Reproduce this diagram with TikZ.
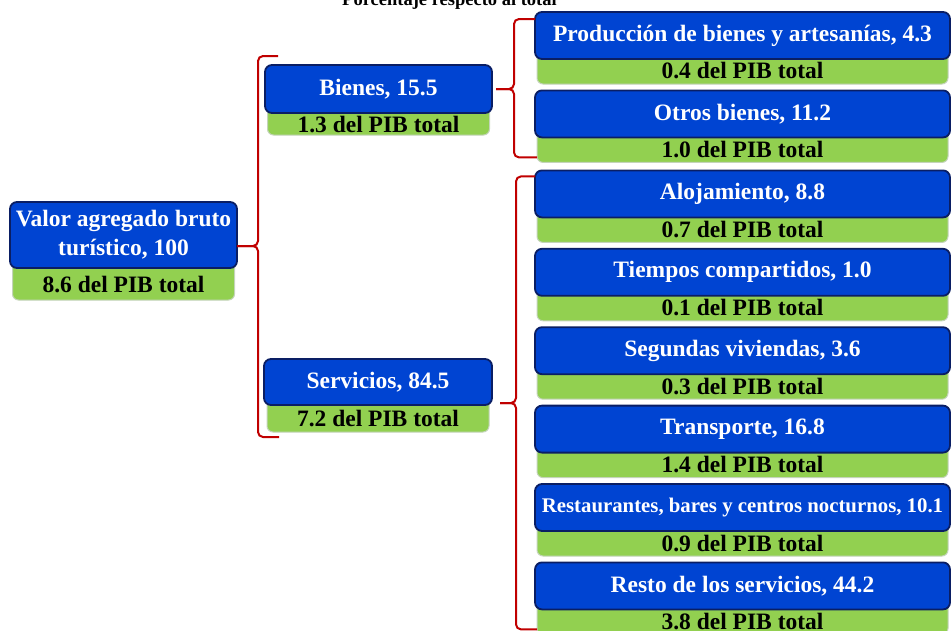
\documentclass[tikz,border=0pt]{standalone}
\usepackage{fontspec}
\setmainfont{Liberation Serif}
\usetikzlibrary{positioning}

\definecolor{azulcaja}{RGB}{0,68,210}
\definecolor{azulborde}{RGB}{10,30,100}
\definecolor{verdecaja}{RGB}{146,208,80}
\definecolor{verdeborde}{RGB}{196,212,186}
\definecolor{rojollave}{RGB}{192,0,0}

\begin{document}
\begin{tikzpicture}[
		x=1pt, y=-1pt,
		every node/.style={font=\bfseries\fontsize{23.5}{29}\selectfont, outer sep=0pt},
		valor/.style={
			rectangle,
			draw=azulborde,
			line width=1.8pt,
			fill=azulcaja,
			rounded corners=7pt,
			text=white,
			align=center,
			inner sep=0pt,
			minimum height=47pt
		},
		pib/.style={
			rectangle,
			draw=verdeborde,
			line width=1pt,
			fill=verdecaja,
			rounded corners=6pt,
			inner sep=0pt,
			text height=32pt,
			text depth=5pt
		},
		ancho/.style={minimum width=415pt},
		anchopib/.style={minimum width=411pt},
		llave/.style={
			draw=rojollave,
			line width=2pt,
			rounded corners=5pt
		},
		titulo/.style={font=\bfseries\fontsize{18.5}{22}\selectfont}
		]
		
		\clip (0,0) rectangle (951,630);
		
		% Title (cut at the top edge)
		\node[titulo, anchor=base] (titulo) at (449.5,5) {Porcentaje respecto al total};
		
		% Left column
		\node[pib, anchor=north, minimum width=222pt, text height=36pt, text depth=8pt] (raizpib) at (123.5,256) {8.6 del PIB total};
		\node[valor, above=-12pt of raizpib, minimum width=227pt, minimum height=66pt] (raiz) {Valor agregado bruto\\ turístico, 100};
		
		\node[pib, anchor=north, minimum width=222pt, text height=31pt, text depth=3pt] (bienespib) at (378.5,101) {1.3 del PIB total};
		\node[valor, above=-12pt of bienespib, minimum width=227pt, minimum height=48pt] (bienes) {Bienes, 15.5};
		
		\node[pib, anchor=north, minimum width=222pt, text height=33pt, text depth=6pt] (servpib) at (378,393) {7.2 del PIB total};
		\node[valor, above=-12pt of servpib, minimum width=228pt, minimum height=46pt] (servicios) {Servicios, 84.5};
		
		% Right column: goods
		\node[pib, anchopib, anchor=north, text height=31pt, text depth=6pt] (prodpib) at (742.5,47) {0.4 del PIB total};
		\node[valor, ancho, above=-12pt of prodpib] (prod) {Producción de bienes y artesanías, 4.3};
		
		\node[pib, anchopib, below=41.4pt of prodpib] (otrospib) {1.0 del PIB total};
		\node[valor, ancho, above=-12pt of otrospib] (otros) {Otros bienes, 11.2};
		
		% Right column: services
		\node[pib, anchopib, below=43pt of otrospib] (alojpib) {0.7 del PIB total};
		\node[valor, ancho, above=-12pt of alojpib] (aloj) {Alojamiento, 8.8};
		
		\node[pib, anchopib, below=41.4pt of alojpib] (tiempospib) {0.1 del PIB total};
		\node[valor, ancho, above=-12pt of tiempospib] (tiempos) {Tiempos compartidos, 1.0};
		
		\node[pib, anchopib, below=41.4pt of tiempospib] (segundaspib) {0.3 del PIB total};
		\node[valor, ancho, above=-12pt of segundaspib] (segundas) {Segundas viviendas, 3.6};
		
		\node[pib, anchopib, below=41.4pt of segundaspib] (transpib) {1.4 del PIB total};
		\node[valor, ancho, above=-12pt of transpib] (trans) {Transporte, 16.8};
		
		\node[pib, anchopib, below=41.4pt of transpib] (restpib) {0.9 del PIB total};
		\node[valor, ancho, above=-12pt of restpib, font=\bfseries\fontsize{20.8}{25}\selectfont] (rest) {Restaurantes, bares y centros nocturnos, 10.1};
		
		\node[pib, anchopib, below=41.4pt of restpib] (restopib) {3.8 del PIB total};
		\node[valor, ancho, above=-12pt of restopib] (resto) {Resto de los servicios, 44.2};
		
		% Braces
		\draw[llave] ([yshift=-11pt]raiz.east) -- ++(21,0)
		|- ([xshift=13pt,yshift=9pt]bienes.north west);
		\draw[llave] ([yshift=-11pt]raiz.east) -- ++(21,0)
		|- ([xshift=12pt,yshift=-5pt]servpib.south west);
		
		\draw[llave] ([xshift=4pt]bienes.east) -- ++(18,0)
		|- ([yshift=-7pt]prod.north west);
		\draw[llave] ([xshift=4pt]bienes.east) -- ++(18,0)
		|- ([yshift=5pt]otrospib.south west);
		
		\draw[llave] ([xshift=8pt,yshift=-21pt]servicios.east) -- ++(16,0)
		|- ([yshift=-6pt]aloj.north west);
		\draw[llave] ([xshift=8pt,yshift=-21pt]servicios.east) -- ++(16,0)
		|- ([yshift=5pt]restopib.south west);
	\end{tikzpicture}
\end{document}
